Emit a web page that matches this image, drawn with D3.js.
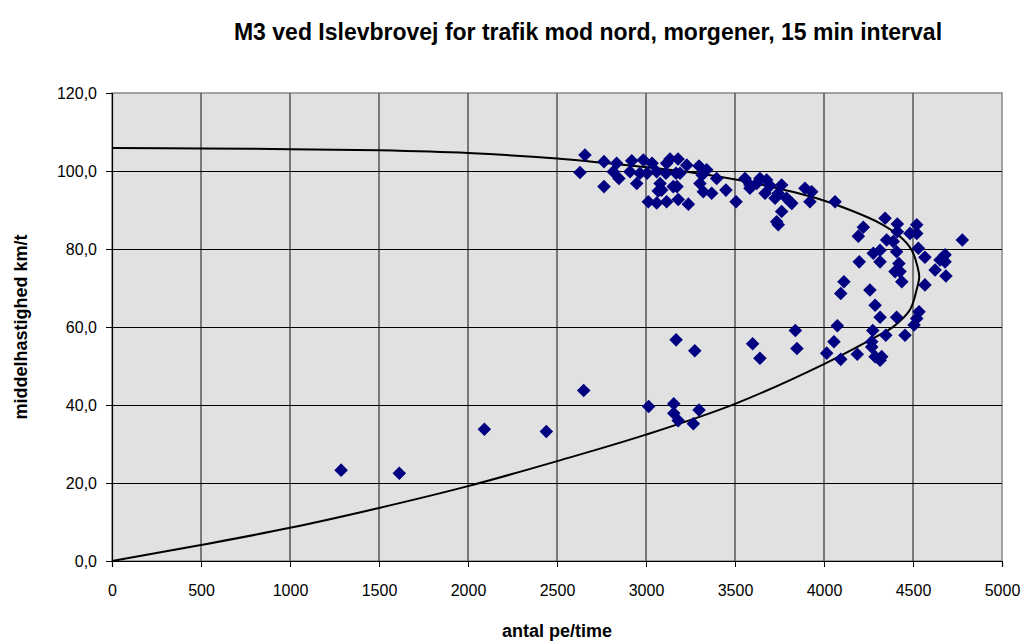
<!DOCTYPE html>
<html>
<head>
<meta charset="utf-8">
<script src="https://cdn.jsdelivr.net/npm/d3@7"></script>
<style>
    body { margin: 0; background: #fff; }
    svg text { font-family: Arial, "Liberation Sans", sans-serif; }
</style>
</head>
<body>
<div id="chart"></div>
<script>
// ---------------------------- data ----------------------------
const TITLE = "M3 ved Islevbrovej for trafik mod nord, morgener, 15 min interval";
const X_LABEL = "antal pe/time";
const Y_LABEL = "middelhastighed km/t";

const xTicks = [0, 500, 1000, 1500, 2000, 2500, 3000, 3500, 4000, 4500, 5000];
const yTicks = [0, 20, 40, 60, 80, 100, 120];

// measured points: flow (pe/time) and mean speed (km/t)
const flow = [
    1287, 1614, 2092, 2440, 2650, 3015, 3156, 3156, 3181, 3266, 3298, 3169, 3274, 3599, 3640, 3839, 3848,
    4062, 4343, 4221, 4193, 4412, 4412, 4521, 4483, 4521, 4352, 4389, 4777, 4277, 4315, 4408, 4530, 4567,
    4680, 4652, 4680, 4315, 4198, 4421, 4624, 4399, 4427, 4685, 4437, 4112, 4094, 4258, 4567, 4287, 4315,
    4408, 4534, 4521, 4506, 4075, 4274, 4347, 4455, 4056, 4268, 4268, 4015, 4094, 4187, 4287, 4324, 4315,
    2657, 2629, 2764, 2764, 2835, 2816, 2848, 2920, 2948, 2985, 2910, 2966, 3034, 3006, 3060, 3013, 3060,
    3079, 3069, 3088, 3116, 3135, 3180, 3116, 3181, 3174, 3153, 3229, 3238, 3112, 3169, 3191, 3298, 3341,
    3315, 3303, 3322, 3369, 3397, 3449, 3506, 3556, 3584, 3622, 3640, 3678, 3669, 3762, 3743, 3790, 3819,
    3762, 3734, 3743, 3893, 3931, 3921, 3584, 3697, 3725, 3809
];
const speed = [
    23.3, 22.5, 33.8, 33.2, 43.7, 39.6, 40.3, 37.9, 36.0, 35.2, 38.7, 56.7, 53.9, 55.7, 52.0, 59.1, 54.5,
    92.1, 87.9, 85.6, 83.3, 86.4, 84.4, 86.2, 84.0, 84.0, 82.3, 81.9, 82.3, 78.9, 79.7, 79.3, 80.2, 77.9,
    78.5, 77.2, 76.7, 76.7, 76.7, 76.3, 74.6, 74.2, 74.2, 73.1, 71.6, 71.6, 68.6, 69.5, 70.8, 65.6, 62.5,
    62.5, 63.9, 62.2, 60.5, 60.3, 59.1, 57.9, 57.9, 56.2, 56.2, 54.9, 53.3, 51.7, 53.0, 52.4, 52.4, 51.5,
    104.1, 99.6, 102.4, 96.0, 102.0, 99.8, 98.1, 102.6, 96.8, 102.8, 99.8, 99.4, 102.0, 99.4, 99.8, 92.1, 91.8,
    96.8, 94.9, 95.1, 102.0, 103.1, 103.1, 92.1, 92.7, 96.0, 96.0, 101.5, 91.5, 99.4, 99.4, 99.4, 101.3, 100.3,
    99.0, 96.8, 94.7, 94.3, 98.1, 95.1, 92.1, 98.1, 96.4, 96.8, 98.1, 97.7, 94.3, 96.4, 94.3, 93.0, 91.7,
    89.6, 87.0, 86.2, 95.6, 94.7, 92.1, 95.6, 96.2, 93.0, 92.1
];

// fitted speed-flow curve (lower branch first)
const curveFlow = [0, 500, 1000, 1500, 2000, 2500, 3000, 3500, 4000, 4260, 4390, 4483, 4520, 4535,
    4525, 4493, 4427, 4315, 4146, 3959, 3697, 3519, 3247, 2760, 2500, 2000, 1500, 1000, 500, 0];
const curveSpeed = [0, 4.1, 8.5, 13.6, 19.2, 25.6, 32.4, 40.3, 50.5, 56.7, 60.1, 64.4, 69.5, 72.9,
    75.5, 79.7, 83.2, 86.6, 90.0, 93.0, 96.0, 97.7, 99.7, 102.1, 103.2, 104.6, 105.3, 105.6, 105.8, 105.9];

// ---------------------------- layout ----------------------------
const WIDTH = 1024, HEIGHT = 641;
const plot = {left: 112, right: 1002, top: 93, bottom: 561};

const svg = d3.select("#chart")
    .append("svg")
    .attr("width", WIDTH)
    .attr("height", HEIGHT);

const x = d3.scaleLinear().domain([0, 5000]).range([plot.left, plot.right]);
const y = d3.scaleLinear().domain([0, 120]).range([plot.bottom, plot.top]);

// plot area background
svg.append("rect")
    .attr("x", plot.left)
    .attr("y", plot.top)
    .attr("width", plot.right - plot.left)
    .attr("height", plot.bottom - plot.top)
    .attr("fill", "#e1e1e1")
    .attr("stroke", "#888")
    .attr("stroke-width", 1.5);

// gridlines
svg.append("g")
    .selectAll("line")
    .data(xTicks.slice(1, -1))
    .enter()
    .append("line")
    .attr("x1", d => x(d)).attr("x2", d => x(d))
    .attr("y1", plot.top).attr("y2", plot.bottom)
    .attr("stroke", "#555")
    .attr("stroke-width", 1.5);

svg.append("g")
    .selectAll("line")
    .data(yTicks.slice(1, -1))
    .enter()
    .append("line")
    .attr("x1", plot.left).attr("x2", plot.right)
    .attr("y1", d => Math.round(y(d)) + 0.5).attr("y2", d => Math.round(y(d)) + 0.5)
    .attr("stroke", "#000")
    .attr("stroke-width", 1);

// axes
const xAxis = d3.axisBottom(x)
    .tickValues(xTicks)
    .tickSize(6)
    .tickPadding(18)
    .tickFormat(d3.format("d"));

const yAxis = d3.axisLeft(y)
    .tickValues(yTicks)
    .tickSize(6)
    .tickPadding(9)
    .tickFormat(d => d3.format(".1f")(d).replace(".", ","));

const gx = svg.append("g")
    .attr("transform", `translate(0,${plot.bottom})`)
    .call(xAxis);
const gy = svg.append("g")
    .attr("transform", `translate(${plot.left},0)`)
    .call(yAxis);

[gx, gy].forEach(g => {
    g.select(".domain").attr("stroke", "#000").attr("stroke-width", 1.2);
    g.selectAll(".tick line").attr("stroke", "#000");
    g.selectAll(".tick text")
        .attr("fill", "#000")
        .style("font-size", "16px")
        .style("font-family", "Arial, 'Liberation Sans', sans-serif");
});

// ---------------------------- curve ----------------------------
const curveData = curveFlow.map((q, i) => ({q, v: curveSpeed[i]}));
const line = d3.line()
    .x(d => x(d.q))
    .y(d => y(d.v))
    .curve(d3.curveCatmullRom.alpha(0.5));

svg.append("path")
    .datum(curveData)
    .attr("d", line)
    .attr("fill", "none")
    .attr("stroke", "#000")
    .attr("stroke-width", 2);

// ---------------------------- points ----------------------------
const points = flow.map((q, i) => ({q, v: speed[i]}));
const diamond = d3.symbol().type(d3.symbolSquare).size(92);

svg.append("g")
    .selectAll("path")
    .data(points)
    .enter()
    .append("path")
    .attr("d", diamond)
    .attr("transform", d => `translate(${x(d.q)},${y(d.v)}) rotate(45)`)
    .attr("fill", "#000080");

// ---------------------------- labels ----------------------------
svg.append("text")
    .attr("x", 588)
    .attr("y", 40)
    .attr("text-anchor", "middle")
    .attr("font-weight", "bold")
    .style("font-size", "23px")
    .text(TITLE);

svg.append("text")
    .attr("x", (plot.left + plot.right) / 2)
    .attr("y", 637)
    .attr("text-anchor", "middle")
    .attr("font-weight", "bold")
    .style("font-size", "18px")
    .text(X_LABEL);

svg.append("text")
    .attr("transform", `translate(27,${(plot.top + plot.bottom) / 2}) rotate(-90)`)
    .attr("text-anchor", "middle")
    .attr("font-weight", "bold")
    .style("font-size", "18px")
    .text(Y_LABEL);
</script>
</body>
</html>
